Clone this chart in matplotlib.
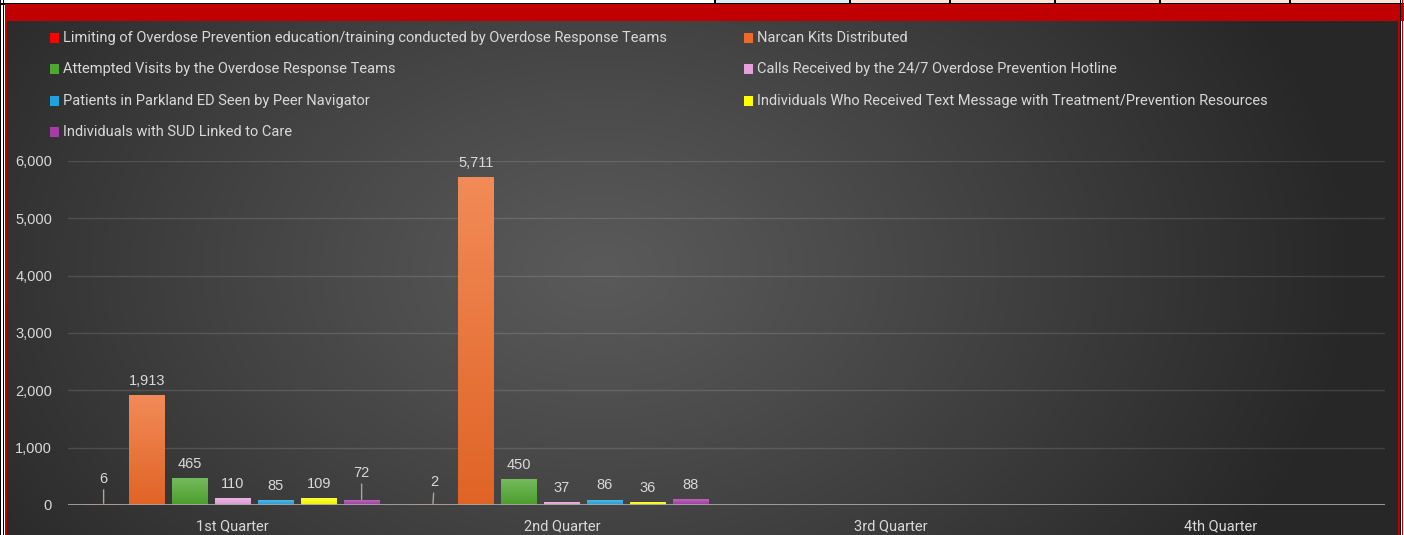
import numpy as np
import matplotlib.pyplot as plt
from matplotlib.patches import Rectangle
from matplotlib.colors import to_rgb

# quarterly counts per program measure (3rd/4th quarter not reported yet)
quarters = ["1st Quarter", "2nd Quarter", "3rd Quarter", "4th Quarter"]
series_names = [
    "Limiting of Overdose Prevention education/training conducted by Overdose Response Teams",
    "Narcan Kits Distributed",
    "Attempted Visits by the Overdose Response Teams",
    "Calls Received by the 24/7 Overdose Prevention Hotline",
    "Patients in Parkland ED Seen by Peer Navigator",
    "Individuals Who Received Text Message with Treatment/Prevention Resources",
    "Individuals with SUD Linked to Care",
]
nan = np.nan
limiting = [6, 2, nan, nan]
narcan = [1913, 5711, nan, nan]
attempted = [465, 450, nan, nan]
calls = [110, 37, nan, nan]
peer_nav = [85, 86, nan, nan]
text_msg = [109, 36, nan, nan]
sud_linked = [72, 88, nan, nan]
values = [limiting, narcan, attempted, calls, peer_nav, text_msg, sud_linked]
colors = ["#FF0000", "#EE6A28", "#4EA72E", "#E6A0DC", "#1FA3E0", "#FFFF00", "#A63CA6"]

W, H = 1404, 535
fig = plt.figure(figsize=(W / 100, H / 100), dpi=100)
fig.patch.set_facecolor("white")


def box(x, y, w, h, color, z=0):
    # rectangle in pixel units measured from the top-left corner
    fig.add_artist(Rectangle((x / W, 1 - (y + h) / H), w / W, h / H,
                             transform=fig.transFigure, facecolor=color,
                             edgecolor="none", zorder=z))


# spreadsheet cells peeking above the chart
box(715, 0, 135, 4, "#DDEBF7")
box(850, 0, 554, 4, "#FCE4D6")
for sx in [715, 850, 950, 1055, 1160, 1290]:
    box(sx - 1, 0, 1.5, 4, "black")
box(0, 3, W, 1.6, "black")
box(0, 0, 1.3, H, "black")
box(3, 0, 1.3, H, "black")
box(5, 4.5, W - 5, 16, "#C00000")
box(5, 4.5, 1.6, H, "#C00000")
box(1397.5, 4.5, 2.5, H, "#C00000")
box(1400, 0, 1.2, H, "black")
box(1401.5, 0, 1.2, H, "#C00000")

# dark radial gradient behind the plot
bg = fig.add_axes([6.6 / W, 0, (1397.5 - 6.6) / W, (H - 20.5) / H], zorder=-5)
gx, gy = np.meshgrid(np.linspace(6.6, 1397.5, 500), np.linspace(20.5, H, 200))
t = np.clip(np.hypot((gx - 600) / 760, (gy - 270) / 520), 0, 1) ** 1.1
shade = (0x5A - (0x5A - 0x27) * t) / 255
bg.imshow(np.dstack([shade] * 3), aspect="auto", extent=(0, 1, 0, 1), origin="upper")
bg.axis("off")

ax = fig.add_axes([68 / W, 30 / H, 1317 / W, 344 / H])
ax.patch.set_alpha(0)
ax.set_zorder(1)

n = len(values)
slot = 43 / 329.25
width = 36 / 329.25
x = np.arange(len(quarters))

# labels that sit higher with a leader line: (series, quarter) -> (dx px, dy px)
moved = {(0, 0): (0, 26), (6, 0): (0, 28), (0, 1): (1.5, 23)}
label_font = dict(fontsize=10.5, color="#D9D9D9", family="Liberation Sans")

for i, (vals, col) in enumerate(zip(values, colors)):
    xs = x + (i - (n - 1) / 2) * slot
    bars = ax.bar(xs, vals, width=width, color=col, zorder=3)
    base = np.array(to_rgb(col))
    top = base + (1 - base) * 0.22
    bottom = base * 0.94
    grad = np.linspace(top, bottom, 64)[:, None, :]
    for q, (b, v) in enumerate(zip(bars, vals)):
        if np.isnan(v):
            continue
        bx, bw = b.get_x(), b.get_width()
        ax.imshow(grad, aspect="auto", extent=(bx, bx + bw, 0, v),
                  origin="upper", zorder=3.5, interpolation="bilinear")
        cx = bx + bw / 2
        if (i, q) in moved:
            dx, dy = moved[(i, q)]
            ax.annotate(f"{v:,.0f}", (cx, v), xytext=(dx * 0.72, dy * 0.72),
                        textcoords="offset points", ha="center", va="center",
                        arrowprops=dict(arrowstyle="-", color="#A6A6A6", lw=1,
                                        shrinkA=1, shrinkB=1),
                        **label_font)
        else:
            ax.annotate(f"{v:,.0f}", (cx, v), xytext=(0, 10.5),
                        textcoords="offset points", ha="center", va="center",
                        **label_font)

ax.set_xlim(-0.5, len(quarters) - 0.5)
ax.set_ylim(0, 6000)
ax.set_yticks(np.arange(0, 6001, 1000))
ax.yaxis.set_major_formatter(plt.FuncFormatter(lambda v, p: f"{v:,.0f}"))
ax.set_xticks(x)
ax.set_xticklabels(quarters)
ax.tick_params(axis="y", length=0, pad=11.5, labelsize=10.5, labelcolor="#D9D9D9")
ax.tick_params(axis="x", length=0, pad=10, labelsize=10.5, labelcolor="#D9D9D9")
for lab in ax.get_yticklabels():
    lab.set_family("Liberation Sans")
for lab in ax.get_xticklabels():
    lab.set_family("Roboto")
ax.grid(axis="y", color="white", alpha=0.13, lw=1, zorder=0)
for s in ax.spines.values():
    s.set_visible(False)
ax.axhline(0, color="#A6A6A6", lw=2, zorder=4)

# two-column legend across the top
for i, (name, col) in enumerate(zip(series_names, colors)):
    lx = 50 if i % 2 == 0 else 744
    ly = 38 + (i // 2) * 31.3
    box(lx, ly - 5, 9, 10, col, z=5)
    fig.text((lx + 13) / W, 1 - ly / H, name, ha="left", va="center",
             fontsize=10.5, color="#D9D9D9", family="Roboto")

fig.savefig("out.png", dpi=100)
